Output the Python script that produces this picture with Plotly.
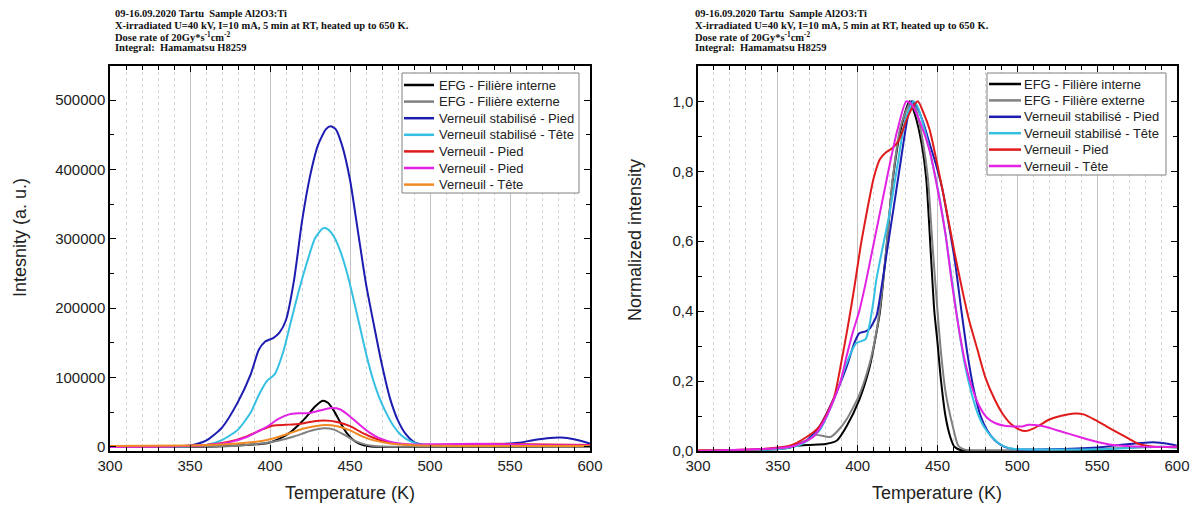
import plotly.graph_objects as go

# ---------------- DATA: left panel (absolute intensity) ----------------
t_efg_int = [300, 350, 370, 385, 398, 405, 412, 418, 423, 428, 433, 436, 440, 444, 448, 452, 456, 462, 470, 600]
i_efg_int = [0, 0, 1000, 3000, 5500, 11000, 20000, 32000, 44000, 58000, 66700, 64000, 52000, 35000, 20000, 10000, 4500, 1000, 0, 0]

t_efg_ext = [300, 370, 385, 395, 405, 415, 425, 434, 440, 446, 452, 458, 465, 475, 600]
i_efg_ext = [0, 1000, 3000, 5000, 9000, 15000, 23000, 27000, 25000, 18000, 10000, 4500, 1500, 500, 0]

t_vs_pied = [300, 340, 350, 360, 370, 380, 388, 393, 397, 402, 406, 410, 415, 420, 425, 430, 435, 438, 441, 445, 450, 455, 460, 465, 470, 475, 480, 485, 490, 495, 500, 520, 540, 555, 565, 575, 582, 590, 600]
i_vs_pied = [0, 500, 2000, 9000, 28000, 65000, 105000, 140000, 152000, 157000, 165000, 183000, 240000, 325000, 390000, 435000, 458000, 462000, 458000, 435000, 385000, 310000, 235000, 175000, 118000, 70000, 38000, 18000, 7000, 3500, 3000, 3000, 3500, 6000, 10000, 13000, 13500, 11000, 5000]

t_vs_tete = [300, 350, 360, 370, 380, 388, 393, 398, 403, 408, 413, 418, 423, 428, 433, 436, 440, 444, 448, 452, 456, 460, 464, 468, 472, 477, 482, 487, 493, 500, 550, 600]
i_vs_tete = [0, 1000, 3000, 10000, 25000, 50000, 75000, 95000, 105000, 135000, 180000, 225000, 265000, 300000, 315000, 314000, 303000, 282000, 252000, 215000, 175000, 135000, 100000, 73000, 52000, 31000, 17000, 9000, 4000, 2500, 2500, 2500]

t_v_pied = [300, 340, 360, 375, 385, 395, 402, 410, 418, 425, 434, 442, 450, 458, 465, 472, 480, 490, 520, 540, 560, 600]
i_v_pied = [500, 1000, 3000, 8000, 15000, 25000, 31000, 32000, 33000, 36000, 38000, 36000, 30000, 20000, 13000, 8000, 4500, 3000, 3500, 4500, 4000, 3000]

t_v_pied2 = [300, 340, 360, 375, 385, 392, 398, 405, 412, 418, 425, 432, 438, 444, 450, 456, 462, 468, 477, 489, 505, 530, 545, 570, 600]
i_v_pied2 = [0, 1000, 3000, 7000, 14000, 22000, 29000, 40000, 47000, 48500, 49000, 53000, 56000, 54000, 44000, 32000, 21000, 13000, 6500, 3500, 4000, 4500, 4000, 2500, 2000]

t_v_tete = [300, 350, 370, 385, 398, 410, 420, 428, 435, 442, 450, 458, 465, 475, 490, 520, 600]
i_v_tete = [1500, 2000, 3500, 6000, 10000, 18000, 26000, 30000, 31700, 30000, 24000, 15000, 9500, 5000, 2500, 1500, 1500]

# ---------------- DATA: right panel (normalized) ----------------
tn_efg_int = [300, 340, 355, 362, 370, 380, 387, 393, 401, 407.5, 411.7, 414, 418, 422, 427, 432.5, 436, 440, 443, 446, 448, 450, 452, 455, 458, 460.6, 465, 480, 600]
n_efg_int = [0, 0.003, 0.008, 0.015, 0.0175, 0.02, 0.03, 0.07, 0.146, 0.24, 0.337, 0.4, 0.58, 0.776, 0.92, 1.0, 0.96, 0.88, 0.776, 0.55, 0.40, 0.31, 0.21, 0.10, 0.04, 0.012, 0.002, 0, 0]

tn_efg_ext = [300, 340, 355, 362, 368, 374, 379, 383, 388, 393, 401, 407.5, 411.7, 414, 418, 422, 427, 433.5, 437, 441, 444, 447, 450, 452, 455, 459.6, 463, 467, 480, 520, 560, 590, 600]
n_efg_ext = [0, 0.004, 0.01, 0.02, 0.03, 0.046, 0.042, 0.04, 0.06, 0.09, 0.16, 0.25, 0.34, 0.41, 0.58, 0.78, 0.93, 1.0, 0.97, 0.88, 0.78, 0.58, 0.40, 0.29, 0.17, 0.07, 0.015, 0.004, 0.002, 0.003, 0.008, 0.012, 0.01]

tn_vs_pied = [300, 330, 345, 359, 368, 376, 384.6, 393, 398, 401, 405, 407.5, 411.7, 415, 418, 421, 424, 427, 430, 432.5, 434, 437, 441, 445, 449, 453, 457, 461, 465, 469, 473, 477, 481, 486, 492, 499, 520, 550, 570, 585, 595, 600]
n_vs_pied = [0, 0.002, 0.006, 0.012, 0.03, 0.07, 0.146, 0.24, 0.31, 0.337, 0.342, 0.35, 0.385, 0.47, 0.56, 0.65, 0.74, 0.83, 0.92, 0.98, 1.0, 0.985, 0.94, 0.88, 0.82, 0.75, 0.65, 0.54, 0.40, 0.27, 0.17, 0.10, 0.06, 0.03, 0.012, 0.005, 0.005, 0.01, 0.02, 0.025, 0.02, 0.015]

tn_vs_tete = [300, 340, 355, 365, 376, 386.7, 393, 399, 405, 409.6, 411.7, 416, 420, 425, 430, 435, 438, 443, 447, 451, 455, 459, 463, 467, 471, 475, 479, 484, 489, 495, 550, 590, 600]
n_vs_tete = [0, 0.003, 0.008, 0.02, 0.058, 0.165, 0.25, 0.308, 0.32, 0.42, 0.49, 0.59, 0.68, 0.82, 0.95, 1.0, 0.98, 0.9, 0.82, 0.73, 0.62, 0.49, 0.36, 0.25, 0.17, 0.11, 0.07, 0.04, 0.02, 0.008, 0.005, 0.012, 0.01]

tn_v_pied = [300, 341, 357.5, 368, 376, 385, 390, 394, 398, 402, 406, 410, 414, 418, 422, 426, 430, 434, 437.7, 441, 445, 453, 461, 466, 470, 475, 480, 486, 491, 496, 501, 505, 510, 514, 520, 527, 536, 542, 549, 556, 564, 570, 576, 586, 600]
n_v_pied = [0.002, 0.006, 0.015, 0.04, 0.07, 0.15, 0.26, 0.36, 0.47, 0.59, 0.69, 0.78, 0.835, 0.855, 0.867, 0.89, 0.94, 0.98, 1.0, 0.97, 0.92, 0.75, 0.56, 0.45, 0.37, 0.29, 0.21, 0.146, 0.105, 0.077, 0.062, 0.057, 0.064, 0.074, 0.09, 0.10, 0.107, 0.104, 0.088, 0.07, 0.05, 0.035, 0.02, 0.012, 0.012]

tn_v_tete = [300, 330, 358, 372, 380.4, 389, 393, 397, 401, 405, 409, 413, 417, 421, 425, 430.4, 434, 440, 445, 450, 455, 459, 463, 467, 471, 476, 481, 486, 492, 503, 507, 511, 517, 528, 539, 549, 560, 580, 600]
n_v_tete = [0, 0.004, 0.012, 0.04, 0.098, 0.194, 0.27, 0.34, 0.40, 0.48, 0.57, 0.66, 0.75, 0.84, 0.92, 1.0, 0.99, 0.93, 0.86, 0.75, 0.62, 0.48, 0.36, 0.26, 0.19, 0.13, 0.095, 0.08, 0.072, 0.07, 0.075, 0.074, 0.07, 0.055, 0.04, 0.027, 0.017, 0.012, 0.012]

# ---------------- LABELS ----------------
names_left = ["EFG - Filière interne", "EFG - Filière externe", "Verneuil stabilisé - Pied",
              "Verneuil stabilisé - Tête", "Verneuil - Pied", "Verneuil - Pied", "Verneuil - Tête"]
names_right = ["EFG - Filière interne", "EFG - Filière externe", "Verneuil stabilisé - Pied",
               "Verneuil stabilisé - Tête", "Verneuil - Pied", "Verneuil - Tête"]
x_tickvals = [300, 350, 400, 450, 500, 550, 600]
x_ticktext = ["300", "350", "400", "450", "500", "550", "600"]
yl_tickvals = [0, 100000, 200000, 300000, 400000, 500000]
yl_ticktext = ["0", "100000", "200000", "300000", "400000", "500000"]
yr_tickvals = [0, 0.2, 0.4, 0.6, 0.8, 1.0]
yr_ticktext = ["0,0", "0,2", "0,4", "0,6", "0,8", "1,0"]
header_lines = ["<b>09-16.09.2020 Tartu  Sample Al2O3:Ti</b>",
                "<b>X-irradiated U=40 kV, I=10 mA, 5 min at RT, heated up to 650 K.</b>",
                "<b>Dose rate of 20Gy*s<sup>-1</sup>cm<sup>-2</sup></b>",
                "<b>Integral:  Hamamatsu H8259</b>"]

colors_left = ["#000000", "#808080", "#1c1cb0", "#35c0e3", "#e01b1b", "#e322e3", "#f08a24"]
colors_right = ["#000000", "#808080", "#1c1cb0", "#35c0e3", "#e01b1b", "#e322e3"]

W, H = 1193, 506
SANS = "Liberation Sans, Arial, sans-serif"
SERIF = "Liberation Serif, Times New Roman, serif"

fig = go.Figure()

left_series = [(t_efg_int, i_efg_int), (t_efg_ext, i_efg_ext), (t_vs_pied, i_vs_pied),
               (t_vs_tete, i_vs_tete), (t_v_pied, i_v_pied), (t_v_pied2, i_v_pied2), (t_v_tete, i_v_tete)]
for (tx, ty), nm, c in zip(left_series, names_left, colors_left):
    fig.add_trace(go.Scatter(x=tx, y=ty, name=nm, mode="lines", showlegend=False,
                             line=dict(color=c, width=2, shape="spline", smoothing=0.6),
                             xaxis="x", yaxis="y"))

right_series = [(tn_efg_int, n_efg_int), (tn_efg_ext, n_efg_ext), (tn_vs_pied, n_vs_pied),
                (tn_vs_tete, n_vs_tete), (tn_v_pied, n_v_pied), (tn_v_tete, n_v_tete)]
for (tx, ty), nm, c in zip(right_series, names_right, colors_right):
    fig.add_trace(go.Scatter(x=tx, y=ty, name=nm, mode="lines", showlegend=False,
                             line=dict(color=c, width=2, shape="spline", smoothing=0.6),
                             xaxis="x2", yaxis="y2"))

def px_x(p):
    return p / W

def px_y(p):
    return 1 - p / H

ydom = [px_y(451), px_y(66)]

xaxis_common = dict(
    range=[300, 600], tickvals=x_tickvals, ticktext=x_ticktext, automargin=False,
    showline=True, linecolor="black", linewidth=1.5, mirror="allticks",
    ticks="inside", ticklen=6, tickwidth=1.2, tickcolor="black",
    tickfont=dict(family=SANS, size=15, color="#222"),
    showgrid=True, gridcolor="#c4c4c4", gridwidth=1, zeroline=False,
    minor=dict(dtick=10, tick0=300, ticks="inside", ticklen=4, tickcolor="black",
               showgrid=True, gridcolor="#d4d4d4", griddash="dot", gridwidth=1),
)
yaxis_common = dict(
    showline=True, linecolor="black", linewidth=1.5, mirror="allticks", automargin=False,
    ticks="inside", ticklen=6, tickwidth=1.2, tickcolor="black",
    tickfont=dict(family=SANS, size=15, color="#222"),
    showgrid=False, zeroline=False,
)

fig.update_layout(
    width=W, height=H,
    margin=dict(l=0, r=0, t=0, b=0, pad=0, autoexpand=False),
    paper_bgcolor="white", plot_bgcolor="white",
    xaxis=dict(domain=[px_x(110), px_x(590)], anchor="y", **xaxis_common),
    yaxis=dict(domain=ydom, anchor="x", range=[-5800, 549000],
               tickvals=yl_tickvals, ticktext=yl_ticktext,
               minor=dict(dtick=50000, tick0=0, ticks="inside", ticklen=4, tickcolor="black"),
               **yaxis_common),
    xaxis2=dict(domain=[px_x(698), px_x(1177)], anchor="y2", **xaxis_common),
    yaxis2=dict(domain=ydom, anchor="x2", range=[0, 1.101],
                tickvals=yr_tickvals, ticktext=yr_ticktext,
                minor=dict(dtick=0.1, tick0=0, ticks="inside", ticklen=4, tickcolor="black"),
                **yaxis_common),
    showlegend=False,
)

annotations = []
shapes = []

# legend boxes (drawn as layout decoration, compact row spacing like the original)
def add_legend(names, colors, box, row0, row_step, line_x0, line_x1, text_x):
    bx0, by0, bx1, by1 = box
    shapes.append(dict(type="rect", xref="paper", yref="paper", layer="above",
                       x0=px_x(bx0), x1=px_x(bx1), y0=px_y(by1), y1=px_y(by0),
                       line=dict(color="#808080", width=1), fillcolor="white"))
    for k, (nm, c) in enumerate(zip(names, colors)):
        yc = row0 + row_step * k
        shapes.append(dict(type="line", xref="paper", yref="paper", layer="above",
                           x0=px_x(line_x0), x1=px_x(line_x1), y0=px_y(yc), y1=px_y(yc),
                           line=dict(color=c, width=2.5)))
        annotations.append(dict(text=nm, x=px_x(text_x), y=px_y(yc), xref="paper", yref="paper",
                                xanchor="left", yanchor="middle", showarrow=False,
                                font=dict(family=SANS, size=13, color="#222")))

add_legend(names_left, colors_left, (402, 73, 579, 193), 85, 16.6, 404, 434, 437)
add_legend(names_right, colors_right, (987, 73, 1166, 175), 84, 16.4, 989, 1021, 1022)

for x0 in (113, 693):
    for i, line in enumerate(header_lines):
        annotations.append(dict(text=line, x=px_x(x0), y=px_y(14 + 11.3 * i), xref="paper", yref="paper",
                                xanchor="left", yanchor="middle", showarrow=False,
                                font=dict(family=SERIF, size=10.5, color="#111")))
annotations.append(dict(text="Temperature (K)", x=px_x(350), y=px_y(493), xref="paper", yref="paper",
                        xanchor="center", yanchor="middle", showarrow=False,
                        font=dict(family=SANS, size=18, color="#222")))
annotations.append(dict(text="Temperature (K)", x=px_x(937), y=px_y(493), xref="paper", yref="paper",
                        xanchor="center", yanchor="middle", showarrow=False,
                        font=dict(family=SANS, size=18, color="#222")))
annotations.append(dict(text="Intesnity (a. u.)", x=px_x(20), y=px_y(238), xref="paper", yref="paper",
                        xanchor="center", yanchor="middle", showarrow=False, textangle=-90,
                        font=dict(family=SANS, size=18, color="#222")))
annotations.append(dict(text="Normalized intensity", x=px_x(635), y=px_y(240), xref="paper", yref="paper",
                        xanchor="center", yanchor="middle", showarrow=False, textangle=-90,
                        font=dict(family=SANS, size=18, color="#222")))
fig.update_layout(annotations=annotations, shapes=shapes)

fig.write_html("out.html", config={"displayModeBar": False},
               post_script="document.body.style.margin='0';document.body.style.padding='0';"
                           "document.body.style.overflow='hidden';")
